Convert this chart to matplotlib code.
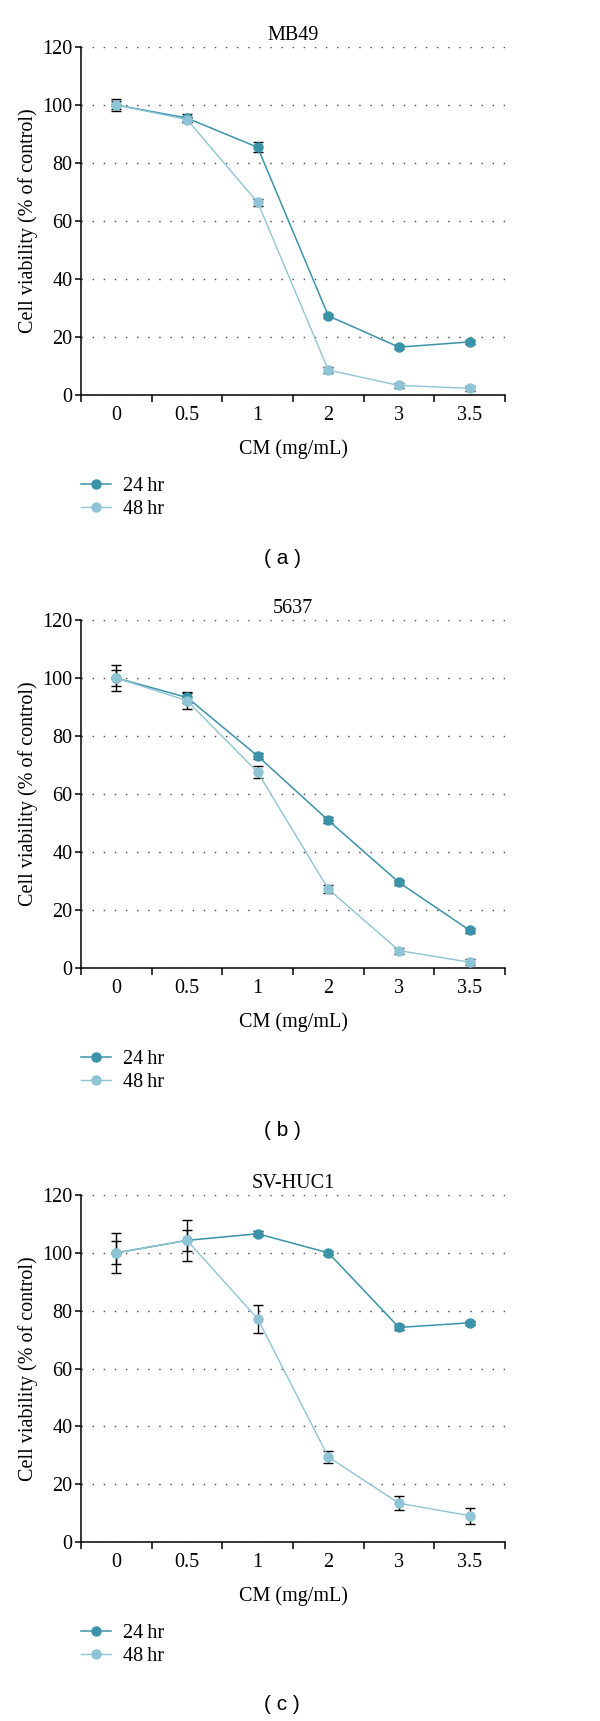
import matplotlib
matplotlib.use("Agg")
import matplotlib.pyplot as plt
import numpy as np

plt.rcParams['font.family'] = ['Liberation Serif', 'DejaVu Serif']

# doses shown on the x axis (categorical)
conc_labels = ['0', '0.5', '1', '2', '3', '3.5']

mb49_24 = [100, 95.5, 85.4, 27.3, 16.5, 18.3]
mb49_24_err = [2.2, 1.5, 1.7, 0.8, 0.8, 0.8]
mb49_48 = [100, 95.0, 66.4, 8.6, 3.3, 2.3]
mb49_48_err = [1.5, 1.0, 1.2, 0.9, 0.9, 0.9]

c5637_24 = [100, 93.3, 73.1, 50.9, 29.5, 13.0]
c5637_24_err = [4.4, 2.0, 1.2, 1.0, 1.0, 0.8]
c5637_48 = [100, 92.2, 67.5, 27.2, 6.0, 2.0]
c5637_48_err = [2.7, 2.8, 2.0, 1.5, 1.0, 1.0]

svhuc1_24 = [100, 104.3, 106.6, 100, 74.2, 75.8]
svhuc1_24_err = [4.0, 3.5, 0.8, 0.7, 0.8, 0.7]
svhuc1_48 = [100, 104.3, 77.2, 29.4, 13.4, 9.1]
svhuc1_48_err = [7.0, 7.0, 4.8, 2.0, 2.5, 2.8]

titles = ['MB49', '5637', 'SV-HUC1']
captions = ['( a )', '( b )', '( c )']
series_labels = ['24\u2009hr', '48\u2009hr']

C24 = '#3a93a9'
C48 = '#8ec4d5'
FS = 14.5

W, H = 600, 1721
fig = plt.figure(figsize=(W / 100, H / 100), dpi=100)

# axes boxes in pixels (top, bottom)
boxes = [(47, 395), (620, 968), (1195, 1542)]
left_px, right_px = 81, 505

panels = [
    (mb49_24, mb49_24_err, mb49_48, mb49_48_err),
    (c5637_24, c5637_24_err, c5637_48, c5637_48_err),
    (svhuc1_24, svhuc1_24_err, svhuc1_48, svhuc1_48_err),
]

x = np.arange(len(conc_labels))

for i, (y24, e24, y48, e48) in enumerate(panels):
    top, bot = boxes[i]
    ax = fig.add_axes([left_px / W, 1 - bot / H, (right_px - left_px) / W, (bot - top) / H])

    ax.errorbar(x, y24, yerr=e24, fmt='none', ecolor='black', elinewidth=1.0,
                capsize=3.5, capthick=1.0, zorder=2)
    ax.errorbar(x, y48, yerr=e48, fmt='none', ecolor='black', elinewidth=1.0,
                capsize=3.5, capthick=1.0, zorder=2)
    l24, = ax.plot(x, y24, color=C24, lw=1.1, marker='o', ms=6.5, mec=C24, zorder=3,
                   label=series_labels[0])
    l48, = ax.plot(x, y48, color=C48, lw=1.0, marker='o', ms=6.5, mec=C48, zorder=4,
                   label=series_labels[1])

    ax.set_xlim(-0.5, 5.5)
    ax.set_ylim(0, 120)
    ax.set_yticks(np.arange(0, 121, 20))
    ax.set_xticks(np.arange(-0.5, 6, 1))
    ax.set_xticklabels([])
    ax.set_xticks(x, minor=True)
    ax.set_xticklabels(conc_labels, minor=True)
    ax.tick_params(axis='x', which='minor', length=0, pad=8, labelsize=FS)
    ax.tick_params(axis='x', which='major', direction='out', length=5, width=1.1)
    ax.tick_params(axis='y', direction='out', length=4, width=1.1, labelsize=FS, pad=2)

    for s in ['top', 'right']:
        ax.spines[s].set_visible(False)
    for s in ['left', 'bottom']:
        ax.spines[s].set_linewidth(1.1)

    ax.yaxis.grid(True, linestyle=(0, (1, 7)), color='#444444', linewidth=1.0)
    ax.set_axisbelow(True)

    ax.set_title(titles[i], fontsize=FS, pad=5)
    ax.set_ylabel('Cell viability (% of control)', fontsize=FS, labelpad=3)
    ax.set_xlabel('CM (mg/mL)', fontsize=FS, labelpad=10)

    ax.legend(handles=[l24, l48], loc='upper left',
              bbox_to_anchor=(81 / W, 1 - (bot + 82) / H), bbox_transform=fig.transFigure,
              frameon=False, fontsize=FS, handlelength=1.5, handletextpad=0.6,
              labelspacing=0.2, borderpad=0, borderaxespad=0)

    fig.text(282 / W, 1 - (bot + 163) / H, captions[i], ha='center', va='center',
             fontsize=15, family=['Liberation Sans', 'DejaVu Sans'])

fig.savefig('out.png', dpi=100)
